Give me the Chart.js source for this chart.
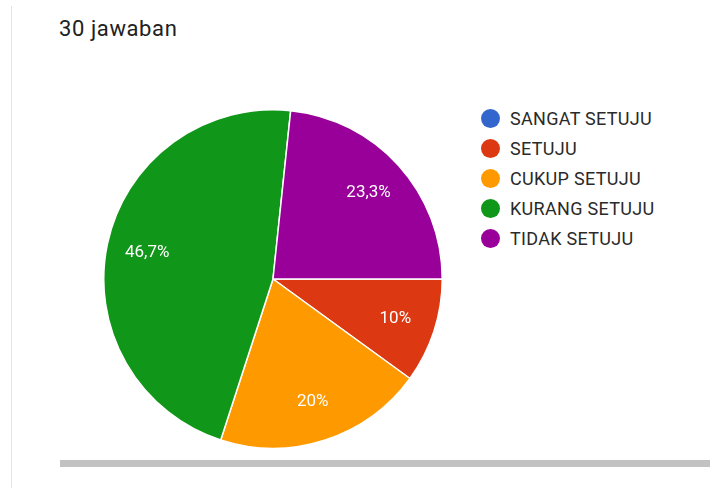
<!DOCTYPE html>
<html>
<head>
<meta charset="utf-8">
<script src="https://cdn.jsdelivr.net/npm/chart.js@4.4.0/dist/chart.umd.min.js"></script>
<style>
  body { margin: 0; width: 720px; height: 488px; background: #fff; position: relative; overflow: hidden; font-family: Roboto, "Noto Sans", sans-serif; }
  #edge { position: absolute; left: 11px; top: 6px; width: 1px; height: 482px; background: #e3e3e3; }
  #title { position: absolute; left: 59px; top: 16px; font-size: 22px; line-height: 26px; letter-spacing: 0.6px; color: #212121; }
  #wrap { position: absolute; left: 103px; top: 109px; width: 340px; height: 340px; }
  #legend { position: absolute; left: 481px; top: 106px; margin: 0; padding: 0; list-style: none; }
  #legend li { height: 30px; line-height: 26px; font-size: 18px; letter-spacing: 0.3px; color: #2a2a2a; white-space: nowrap; }
  #legend span { display: inline-block; width: 19px; height: 19px; border-radius: 50%; vertical-align: -3px; margin-right: 10px; }
  #bar { position: absolute; left: 60px; top: 460px; width: 650px; height: 7px; background: #c2c2c2; }
</style>
</head>
<body>
<div id="edge"></div>
<div id="title">30 jawaban</div>
<div id="wrap"><canvas id="chart"></canvas></div>
<ul id="legend"></ul>
<div id="bar"></div>
<script>
const labels = ['SANGAT SETUJU', 'SETUJU', 'CUKUP SETUJU', 'KURANG SETUJU', 'TIDAK SETUJU'];
const counts = [0, 3, 6, 14, 7];
const colors = ['#3366cc', '#dc3912', '#ff9900', '#109618', '#990099'];

const total = counts.reduce((a, b) => a + b, 0);

function pct(v)
{
    let p = Math.round(v / total * 1000) / 10;
    return String(p).replace('.', ',') + '%';
}

// legend as html
let html = '';
labels.forEach((l, i) => {
    html += `<li><span style="background:${colors[i]}"></span>${l}</li>`;
});
document.getElementById('legend').innerHTML = html;

const sliceLabels = {
    id: 'sliceLabels',
    afterDatasetsDraw(chart) {
        const ctx = chart.ctx;
        const meta = chart.getDatasetMeta(0);
        ctx.save();
        ctx.fillStyle = '#fff';
        ctx.font = '17px Roboto, "Noto Sans", sans-serif';
        ctx.textAlign = 'center';
        ctx.textBaseline = 'middle';
        meta.data.forEach((arc, i) => {
            if (!counts[i]) return;
            const p = arc.getProps(['x', 'y', 'startAngle', 'endAngle', 'outerRadius'], true);
            const mid = (p.startAngle + p.endAngle) / 2;
            const r = p.outerRadius * 0.76;
            ctx.fillText(pct(counts[i]), p.x + Math.cos(mid) * r, p.y + Math.sin(mid) * r);
        });
        ctx.restore();
    }
};

new Chart(document.getElementById('chart'), {
    type: 'pie',
    data: {
        labels: labels,
        datasets: [{
            data: counts,
            backgroundColor: colors,
            borderColor: '#fff',
            borderWidth: 1.5
        }]
    },
    options: {
        responsive: true,
        maintainAspectRatio: false,
        animation: false,
        rotation: 90,
        plugins: {
            legend: { display: false },
            tooltip: { enabled: false }
        }
    },
    plugins: [sliceLabels]
});
</script>
</body>
</html>
